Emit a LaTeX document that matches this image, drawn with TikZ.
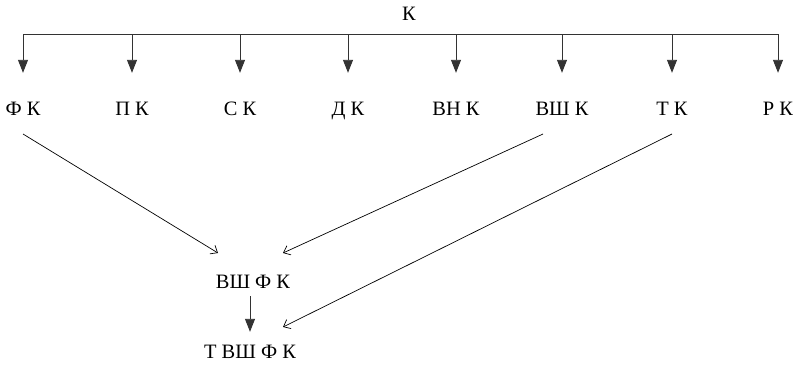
\documentclass[tikz,border=0pt]{standalone}
\usepackage{fontspec}
\setmainfont{Liberation Serif}
\usetikzlibrary{arrows.meta}
\tikzset{
  lbl/.style = {font=\fontsize{20.5}{24}\selectfont, anchor=base, inner sep=0pt,
                text height=13.5bp, text depth=0pt},
  bus/.style = {line width=0.9bp, draw=black!80},
  drop/.style = {-{Triangle[length=13bp,width=10bp]}, line width=0.9bp, draw=black!80},
  link/.style = {-{Straight Barb[length=6bp,width=10bp]}, line width=0.7bp},
}

\begin{document}
\begin{tikzpicture}[x=1bp, y=-1bp]
  \useasboundingbox (0,0) rectangle (802,366);

  % root and its eight branches
  \node [lbl] (k) at (409,20) {К};
  \node [lbl] (fk)   at (23,115)  {Ф К};
  \node [lbl] (pk)   at (132,115) {П К};
  \node [lbl] (sk)   at (240,115) {С К};
  \node [lbl] (dk)   at (348,115) {Д К};
  \node [lbl] (vnk)  at (456,115) {ВН К};
  \node [lbl] (vshk) at (562,115) {ВШ К};
  \node [lbl] (tk)   at (672,115) {Т К};
  \node [lbl] (rk)   at (778,115) {Р К};

  % combined ones
  \node [lbl] (vshfk)  at (253,288) {ВШ Ф К};
  \node [lbl] (tvshfk) at (250,358) {Т ВШ Ф К};

  % bus line with the drops
  \coordinate (top) at (0,34);
  \draw [bus] (fk |- top) -- (rk |- top);
  \foreach \n in {fk,pk,sk,dk,vnk,vshk,tk,rk}
    \draw [drop, shorten >=28.5bp] (\n |- top) -- (\n.north);

  % what goes into the combinations
  \draw [link] ([shift={(0,19)}]fk.base) -- ([shift={(-35,-35)}]vshfk.base);
  \draw [link] ([shift={(-19,19)}]vshk.base) -- ([shift={(30,-35)}]vshfk.base);
  \draw [link] ([shift={(0,19)}]tk.base) -- ([shift={(33,-31)}]tvshfk.base);
  \draw [drop, shorten <=8bp, shorten >=12.5bp] (tvshfk.north |- vshfk.base) -- (tvshfk.north);
\end{tikzpicture}
\end{document}
